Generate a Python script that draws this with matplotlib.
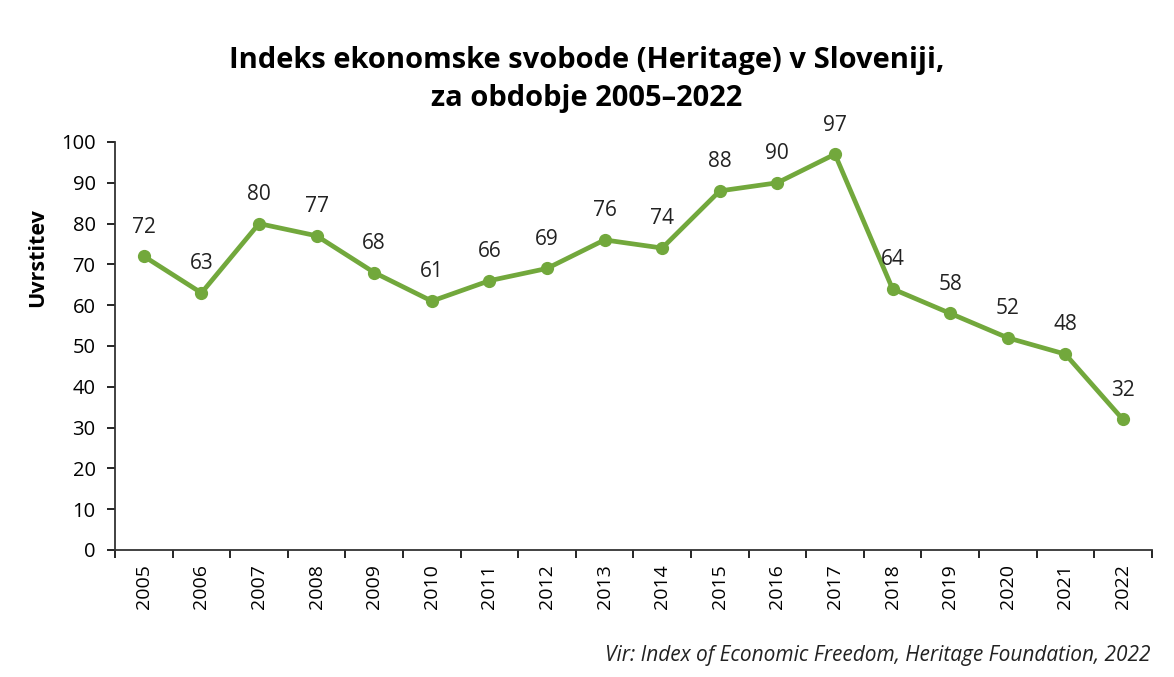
import numpy as np
import matplotlib.pyplot as plt

plt.rcParams['font.family'] = ['Open Sans', 'DejaVu Sans']

years = [str(y) for y in range(2005, 2023)]
rank = [72, 63, 80, 77, 68, 61, 66, 69, 76, 74, 88, 90, 97, 64, 58, 52, 48, 32]
green = '#72a83c'

fig = plt.figure(figsize=(11.74, 6.77), dpi=100)
ax = fig.add_axes([0.098, 0.1876, 0.883, 0.6027])

x = np.arange(len(years))
ax.plot(x, rank, color=green, lw=3.4, marker='o', ms=8.5, solid_joinstyle='round')
for xi, v in zip(x, rank):
    ax.annotate(str(v), (xi, v), xytext=(0, 21), textcoords='offset points',
                ha='center', va='center', fontsize=15, color='#222222')

ax.set_xlim(-0.5, len(years) - 0.5)
ax.set_ylim(0, 100)
ax.set_yticks(range(0, 101, 10))
ax.set_xticks(x)
ax.set_xticklabels(years, rotation=90)
ax.set_xticks(np.arange(-0.5, len(years), 1), minor=True)
ax.tick_params(axis='x', which='major', length=0, pad=10, labelsize=14)
ax.tick_params(axis='x', which='minor', length=6, width=1.2, direction='out')
ax.tick_params(axis='y', length=6, width=1.2, labelsize=14.5, pad=8)
for s in ['top', 'right']:
    ax.spines[s].set_visible(False)
for s in ['left', 'bottom']:
    ax.spines[s].set_linewidth(1.3)
    ax.spines[s].set_color('#333333')

fig.text(38 / 1174, 1 - 258 / 677, 'Uvrstitev', rotation=90, ha='center',
         va='center', fontsize=15.5, fontweight='bold')

fig.text(0.5, 0.911, 'Indeks ekonomske svobode (Heritage) v Sloveniji,',
         ha='center', va='center', fontsize=21, fontweight='bold')
fig.text(0.5, 0.855, 'za obdobje 2005\u20132022',
         ha='center', va='center', fontsize=21, fontweight='bold')
fig.text(0.98, 0.032, 'Vir: Index of Economic Freedom, Heritage Foundation, 2022',
         ha='right', va='center', fontsize=15, style='italic', color='#222222')

fig.savefig('out.png', dpi=100, facecolor='white')
